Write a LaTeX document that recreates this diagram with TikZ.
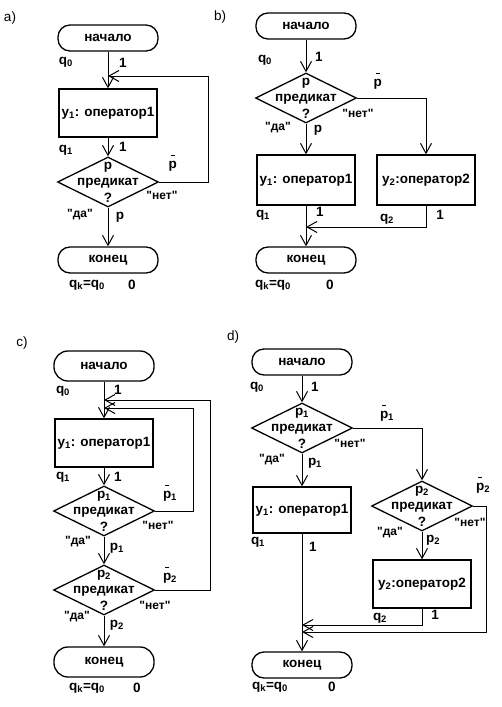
\documentclass[tikz,border=0pt]{standalone}
\usepackage{fontspec}
\setmainfont{Liberation Sans}
\usetikzlibrary{arrows.meta,shapes.geometric}
\newcommand{\negp}[1]{\rlap{\hspace{0.16em}\rule[0.9em]{0.3em}{0.09em}}p\textsubscript{#1}}
\newcommand{\qt}[1]{\textquotedbl#1\textquotedbl}
\begin{document}
\begin{tikzpicture}[x=1pt, y=-1pt,
  term/.style={draw, line width=1.3pt, rounded corners=12pt, minimum width=100pt, minimum height=26pt, font=\bfseries\fontsize{13.5}{15}\selectfont},
  opbox/.style={draw, line width=1.3pt, minimum width=98pt, minimum height=48pt, inner sep=0pt, font=\bfseries\fontsize{13.5}{15}\selectfont},
  cond/.style={draw, diamond, line width=1.3pt, minimum width=101pt, minimum height=50pt, inner sep=0pt},
  condtext/.style={align=center, inner sep=0pt, font=\bfseries\fontsize{13.5}{16.5}\selectfont},
  lbl/.style={font=\bfseries\fontsize{13.5}{15}\selectfont, inner sep=1pt},
  ans/.style={font=\bfseries\fontsize{12}{13}\selectfont, inner sep=1pt},
  tag/.style={font=\fontsize{13.5}{15}\selectfont},
  arr/.style={line width=1pt, -{Straight Barb[length=10pt, width=11pt]}}]
	%% the page is as big as the original picture, one unit is one pixel
	\useasboundingbox (0,0) rectangle (502,707);

	%% a) one operator and a loop back from the predicate
	\node[tag] (taga) at (10,18) {a)};
	\node[term] (sa) at (108,38) {начало};
	\node[opbox] (ya) at (108,113) {y\textsubscript{1}: оператор1};
	\node[cond] (pa) at (108,182) {};
	\node[condtext] (pat) at (pa) {p\\предикат\\?};
	\node[term] (ea) at (108,260) {конец};
	\coordinate (ja) at (108,76);
	\coordinate (ra) at (208,76);
	\draw[arr] (sa) -- (ya);
	\draw[arr] (ya) -- (pa);
	\draw[arr] (pa) -- (ea);
	\draw[arr] (pa.east) -| (ra) -- (ja);
	\node[lbl] (qa0) at (66,62) {q\textsubscript{0}};
	\node[lbl] (na0) at (123,63) {1};
	\node[lbl] (qa1) at (66,150) {q\textsubscript{1}};
	\node[lbl] (na1) at (123,147) {1};
	\node[lbl] (npa) at (173,163) {\negp{}};
	\node[ans] (noa) at (162,195) {\qt{нет}};
	\node[ans] (yesa) at (80,215) {\qt{да}};
	\node[lbl] (pya) at (120,217) {p};
	\node[lbl] (qka) at (87,285) {q\textsubscript{k}=q\textsubscript{0}};
	\node[lbl] (za) at (132,285) {0};

	%% b) the predicate picks one of two operators
	\node[tag] (tagb) at (220,17) {b)};
	\node[term] (sb) at (306,26) {начало};
	\node[cond] (pb) at (306,98) {};
	\node[condtext] (pbt) at (pb) {p\\предикат\\?};
	\node[opbox, minimum height=50pt] (y1b) at (306,180) {y\textsubscript{1}: оператор1};
	\node[opbox, minimum height=50pt] (y2b) at (426,180) {y\textsubscript{2}:оператор2};
	\node[term] (eb) at (306,260) {конец};
	\coordinate (jb) at (306,227);
	\draw[arr] (sb) -- (pb);
	\draw[arr] (pb) -- (y1b);
	\draw[arr] (pb.east) -| (y2b.north);
	\draw[arr] (y1b) -- (eb);
	\draw[arr] (y2b.south) |- (jb);
	\node[lbl] (qb0) at (265,60) {q\textsubscript{0}};
	\node[lbl] (nb0) at (319,57) {1};
	\node[lbl] (npb) at (378,81) {\negp{}};
	\node[ans] (nob) at (358,113) {\qt{нет}};
	\node[ans] (yesb) at (278,128) {\qt{да}};
	\node[lbl] (pyb) at (318,130) {p};
	\node[lbl] (qb1) at (263,215) {q\textsubscript{1}};
	\node[lbl] (nb1) at (320,212) {1};
	\node[lbl] (qb2) at (387,219) {q\textsubscript{2}};
	\node[lbl] (nb2) at (440,215) {1};
	\node[lbl] (qkb) at (273,285) {q\textsubscript{k}=q\textsubscript{0}};
	\node[lbl] (zb) at (330,285) {0};

	%% c) two predicates, both go back to the operator
	\node[tag] (tagc) at (22,343) {c)};
	\node[term, minimum height=30pt, rounded corners=14pt] (sc) at (104,366) {начало};
	\node[opbox] (yc) at (104,443) {y\textsubscript{1}: оператор1};
	\node[cond] (p1c) at (104,511) {};
	\node[condtext] (p1ct) at (p1c) {p\textsubscript{1}\\предикат\\?};
	\node[cond] (p2c) at (104,590) {};
	\node[condtext] (p2ct) at (p2c) {p\textsubscript{2}\\предикат\\?};
	\node[term, minimum height=30pt, rounded corners=14pt] (ec) at (104,662) {конец};
	\coordinate (j1c) at (104,408);
	\coordinate (j2c) at (104,400);
	\coordinate (r1c) at (193,408);
	\coordinate (r2c) at (210,400);
	\draw[arr] (sc) -- (yc);
	\draw[arr] (yc) -- (p1c);
	\draw[arr] (p1c) -- (p2c);
	\draw[arr] (p2c) -- (ec);
	\draw[arr] (p1c.east) -| (r1c) -- (j1c);
	\draw[arr] (p2c.east) -| (r2c) -- (j2c);
	\node[lbl] (qc0) at (63,391) {q\textsubscript{0}};
	\node[lbl] (nc0) at (118,390) {1};
	\node[lbl] (qc1) at (63,477) {q\textsubscript{1}};
	\node[lbl] (nc1) at (118,477) {1};
	\node[lbl] (np1c) at (170,493) {\negp{1}};
	\node[ans] (no1c) at (158,525) {\qt{нет}};
	\node[ans] (yes1c) at (78,542) {\qt{да}};
	\node[lbl] (py1c) at (117,548) {p\textsubscript{1}};
	\node[lbl] (np2c) at (170,575) {\negp{2}};
	\node[ans] (no2c) at (155,605) {\qt{нет}};
	\node[ans] (yes2c) at (77,617) {\qt{да}};
	\node[lbl] (py2c) at (117,625) {p\textsubscript{2}};
	\node[lbl] (qkc) at (87,688) {q\textsubscript{k}=q\textsubscript{0}};
	\node[lbl] (zc) at (137,688) {0};

	%% d) two predicates, two operators, three ways to the end
	\node[tag] (tagd) at (233,337) {d)};
	\node[term] (sd) at (302,362) {начало};
	\node[cond] (p1d) at (302,428) {};
	\node[condtext] (p1dt) at (p1d) {p\textsubscript{1}\\предикат\\?};
	\node[opbox, minimum height=46pt] (y1d) at (302,510) {y\textsubscript{1}: оператор1};
	\node[cond] (p2d) at (422,506) {};
	\node[condtext] (p2dt) at (p2d) {p\textsubscript{2}\\предикат\\?};
	\node[opbox] (y2d) at (422,584) {y\textsubscript{2}:оператор2};
	\node[term] (ed) at (302,665) {конец};
	\coordinate (j1d) at (302,625);
	\coordinate (j2d) at (302,632);
	\coordinate (r2d) at (486,632);
	\draw[arr] (sd) -- (p1d);
	\draw[arr] (p1d) -- (y1d);
	\draw[arr] (p1d.east) -| (p2d.north);
	\draw[arr] (p2d) -- (y2d);
	\draw[arr] (y1d) -- (ed);
	\draw[arr] (y2d.south) |- (j1d);
	\draw[arr] (p2d.east) -| (r2d) -- (j2d);
	\node[lbl] (qd0) at (257,387) {q\textsubscript{0}};
	\node[lbl] (nd0) at (315,387) {1};
	\node[lbl] (np1d) at (387,413) {\negp{1}};
	\node[ans] (no1d) at (350,443) {\qt{нет}};
	\node[ans] (yes1d) at (272,460) {\qt{да}};
	\node[lbl] (py1d) at (315,463) {p\textsubscript{1}};
	\node[lbl] (np2d) at (483,485) {\negp{2}};
	\node[ans] (no2d) at (470,522) {\qt{нет}};
	\node[ans] (yes2d) at (390,533) {\qt{да}};
	\node[lbl] (py2d) at (433,540) {p\textsubscript{2}};
	\node[lbl] (qd1) at (258,542) {q\textsubscript{1}};
	\node[lbl] (nd1) at (313,547) {1};
	\node[lbl] (qd2) at (380,618) {q\textsubscript{2}};
	\node[lbl] (nd2) at (435,615) {1};
	\node[lbl] (qkd) at (270,687) {q\textsubscript{k}=q\textsubscript{0}};
	\node[lbl] (zd) at (332,687) {0};
\end{tikzpicture}
\end{document}
